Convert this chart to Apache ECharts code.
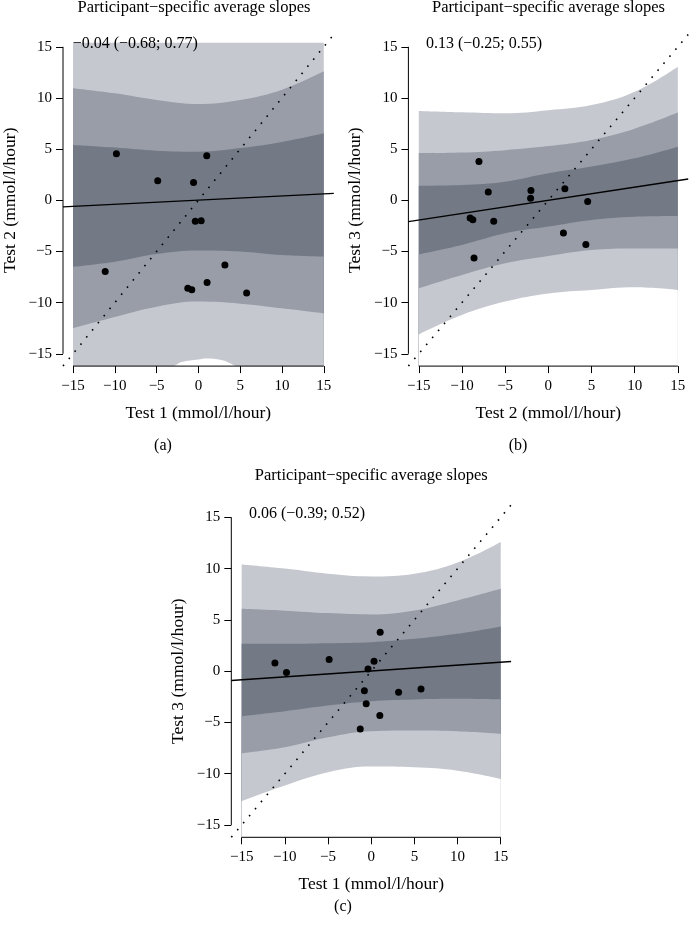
<!DOCTYPE html>
<html><head><meta charset="utf-8">
<script src="https://cdn.jsdelivr.net/npm/echarts@6/dist/echarts.min.js"></script>
<style>html,body{margin:0;padding:0;background:#fff}#c{width:689px;height:925px}</style>
</head><body><div id="c"></div>
<script>
// ---- data ----
// participant-specific average slopes (mmol/l/hour), 12 participants
const test1 = [-11.15, -9.81, -4.87, -1.27, -0.79, -0.58, -0.37, 0.33, 1.00, 1.04, 3.17, 5.77];
const test2 = [-6.95, 4.56, 1.92, -8.60, -8.74, 1.75, -2.05, -2.01, 4.35, -8.03, -6.32, -9.05];
const test3 = [0.80, -0.12, 1.13, -5.64, -1.90, -3.19, 0.20, 0.96, -4.33, 3.80, -2.05, -1.74];

const tickValues = [-15, -10, -5, 0, 5, 10, 15];
const bandX = [-15, -10, -5, 0, 5, 10, 15];

// panel (a): Test 1 vs Test 2
const aOutUp = [15.4, 15.4, 15.4, 15.4, 15.4, 15.4, 15.4];
const aMidUp = [10.95, 10.45, 9.8, 9.4, 9.8, 10.8, 12.6];
const aInUp = [5.4, 5.15, 4.85, 4.75, 5.1, 5.7, 6.55];
const aInLo = [-6.5, -6.0, -5.25, -4.9, -5.0, -5.35, -5.5];
const aMidLo = [-12.5, -11.4, -10.4, -9.9, -10.1, -10.55, -11.05];
const aOutLoX = [-15, -5, -3, -2, 0, 1, 3, 4.5, 6, 15];
const aOutLo = [-17.2, -16.5, -16.2, -15.8, -15.55, -15.45, -15.65, -16.2, -16.5, -17.2];
const aReg = [-0.65, 0.68];
const aLabel = '\u22120.04 (\u22120.68; 0.77)';

// panel (b): Test 2 vs Test 3
const bOutUp = [8.73, 8.6, 8.5, 8.8, 9.3, 10.6, 13.06];
const bMidUp = [4.6, 4.66, 4.9, 5.3, 5.9, 7.0, 8.57];
const bInUp = [1.43, 1.5, 1.82, 2.64, 3.3, 4.1, 5.24];
const bInLo = [-5.28, -4.36, -3.22, -2.57, -1.92, -1.6, -1.53];
const bMidLo = [-8.6, -7.3, -6.15, -5.44, -4.85, -4.7, -4.7];
const bOutLo = [-13.1, -11.2, -9.9, -9.1, -8.76, -8.5, -8.76];
const bReg = [-2.08, 2.08];
const bLabel = '0.13 (\u22120.25; 0.55)';

// panel (c): Test 1 vs Test 3
const cOutUp = [10.4, 10.0, 9.5, 9.24, 9.5, 10.6, 12.6];
const cMidUp = [6.08, 5.9, 5.66, 5.53, 5.92, 6.9, 8.03];
const cInUp = [2.67, 2.67, 2.73, 2.83, 3.15, 3.64, 4.36];
const cInLo = [-4.39, -3.9, -3.35, -2.93, -2.76, -2.7, -2.76];
const cMidLo = [-8.0, -7.41, -6.44, -5.85, -5.79, -5.85, -6.1];
const cOutLo = [-12.68, -11.15, -9.85, -9.3, -9.37, -9.7, -10.5];
const cReg = [-0.91, 0.94];
const cLabel = '0.06 (\u22120.39; 0.52)';

const regX = [-16.2, 16.2];
const axisMin = -16.2, axisMax = 16.2;
const title = 'Participant\u2212specific average slopes';

// ---- styling ----
const FONT = 'Liberation Serif, DejaVu Serif, serif';
const LIGHT = '#c5c8cf', MID = '#989da8', DARK = '#737a86';

const grids = [
  {left: 54.2, top: 34.5, width: 279.6, height: 331.6},
  {left: 408.4, top: 34.5, width: 279.8, height: 331.6},
  {left: 231.3, top: 505, width: 279.8, height: 332.3}
];
const xNames = ['Test 1 (mmol/l/hour)', 'Test 2 (mmol/l/hour)', 'Test 1 (mmol/l/hour)'];
const yNames = ['Test 2 (mmol/l/hour)', 'Test 3 (mmol/l/hour)', 'Test 3 (mmol/l/hour)'];

function fmt(v) { return String(v).replace('-', '\u2212'); }

function axis(i, isX) {
  return {
    type: 'value', gridIndex: i, min: axisMin, max: axisMax,
    name: isX ? xNames[i] : yNames[i], nameLocation: 'middle', nameGap: isX ? 38 : 44,
    nameTextStyle: {fontFamily: FONT, fontSize: 17.5, color: '#000'},
    axisLine: {show: false, onZero: false},
    splitLine: {show: false},
    axisTick: {show: true, customValues: tickValues, length: 7, lineStyle: {color: '#000', width: 1}},
    axisLabel: {customValues: tickValues, formatter: fmt, fontFamily: FONT, fontSize: 15, color: '#000', margin: isX ? 12.5 : 11}
  };
}

function area(i, xs, ys, color) {
  return {type: 'line', xAxisIndex: i, yAxisIndex: i, data: xs.map((x, k) => [x, ys[k]]),
    smooth: 0.4, symbol: 'none', silent: true, animation: false, z: 1,
    lineStyle: {width: 0, color: color}, areaStyle: {color: color, opacity: 1, origin: 'start'}};
}
function seg(i, pts, style, clip) {
  return {type: 'line', xAxisIndex: i, yAxisIndex: i, data: pts, symbol: 'none', silent: true,
    animation: false, clip: clip, z: 5, lineStyle: style};
}

function panel(i, b, xs, ys, reg) {
  const W = '#ffffff';
  const outLoX = b.outLoX || bandX;
  return [
    area(i, bandX, b.outUp, LIGHT),
    area(i, bandX, b.midUp, MID),
    area(i, bandX, b.inUp, DARK),
    area(i, bandX, b.inLo, MID),
    area(i, bandX, b.midLo, LIGHT),
    area(i, outLoX, b.outLo, W),
    seg(i, [[axisMin, axisMin], [axisMax, axisMax]], {color: '#000', width: 1.6, type: [1.6, 7.6]}, false),
    seg(i, regX.map((x, k) => [x, reg[k]]), {color: '#000', width: 1.3}, true),
    {type: 'scatter', xAxisIndex: i, yAxisIndex: i, data: xs.map((x, k) => [x, ys[k]]), z: 10,
      symbol: 'circle', symbolSize: 7, itemStyle: {color: '#000', opacity: 1}, silent: true, animation: false},
    seg(i, [[tickValues[0], axisMin], [tickValues[6], axisMin]], {color: '#000', width: 1}, false),
    seg(i, [[axisMin, tickValues[0]], [axisMin, tickValues[6]]], {color: '#000', width: 1}, false)
  ];
}

function txt(x, y, s, align, size) {
  return {type: 'text', x: x, y: y, silent: true, z: 100,
    style: {text: s, fontFamily: FONT, fontSize: size, fill: '#000', textAlign: align, textVerticalAlign: 'middle'}};
}

const series = [].concat(
  panel(0, {outUp: aOutUp, midUp: aMidUp, inUp: aInUp, inLo: aInLo, midLo: aMidLo, outLo: aOutLo, outLoX: aOutLoX}, test1, test2, aReg),
  panel(1, {outUp: bOutUp, midUp: bMidUp, inUp: bInUp, inLo: bInLo, midLo: bMidLo, outLo: bOutLo}, test2, test3, bReg),
  panel(2, {outUp: cOutUp, midUp: cMidUp, inUp: cInUp, inLo: cInLo, midLo: cMidLo, outLo: cOutLo}, test1, test3, cReg)
);

const chart = echarts.init(document.getElementById('c'), null, {renderer: 'canvas'});
chart.setOption({
  animation: false,
  backgroundColor: '#ffffff',
  grid: grids,
  xAxis: [axis(0, true), axis(1, true), axis(2, true)],
  yAxis: [axis(0, false), axis(1, false), axis(2, false)],
  series: series,
  graphic: [
    txt(194, 7.5, title, 'center', 16.5),
    txt(548.5, 7.5, title, 'center', 16.5),
    txt(371.3, 476, title, 'center', 16.5),
    txt(72.7, 44, aLabel, 'left', 16),
    txt(426, 44, bLabel, 'left', 16),
    txt(249, 514, cLabel, 'left', 16),
    txt(163, 446, '(a)', 'center', 16),
    txt(518, 446, '(b)', 'center', 16),
    txt(343, 907, '(c)', 'center', 16)
  ]
});
</script>
</body></html>
